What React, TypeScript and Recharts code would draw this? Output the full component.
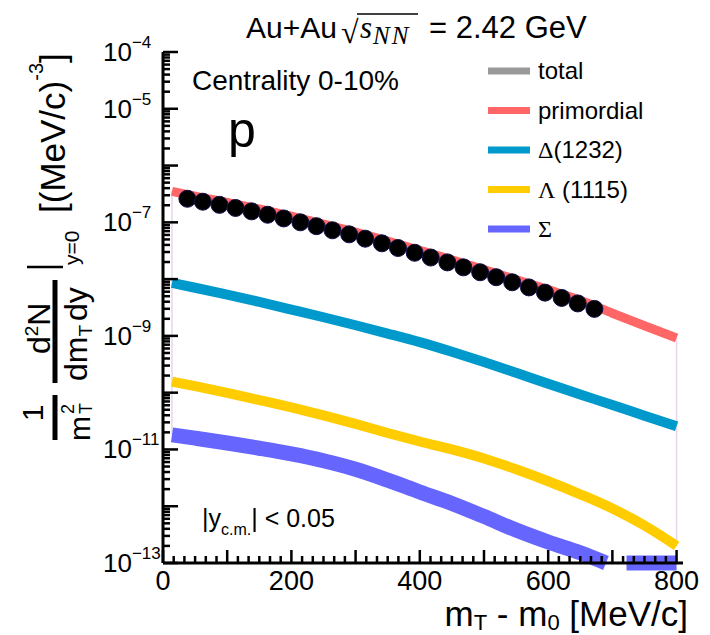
import { ComposedChart, Line, Scatter, XAxis, YAxis, ReferenceLine } from 'recharts';

const SANS = '"Liberation Sans", Arial, sans-serif';
const SERIF = '"Liberation Serif", "Times New Roman", serif';

// m_T - m_0 grid (MeV/c) for the model bands
const MT_GRID = [14, 50, 100, 150, 200, 250, 300, 350, 400, 450, 500, 550, 600, 650, 700, 750, 800];
const PRIMORDIAL = [
  3.51e-7, 2.88e-7, 2.24e-7, 1.72e-7, 1.28e-7, 9.33e-8, 6.73e-8, 4.69e-8, 3.21e-8,
  2.19e-8, 1.48e-8, 9.84e-9, 6.52e-9, 4.24e-9, 2.51e-9, 1.51e-9, 9.2e-10,
];
const DELTA_1232 = [
  8.57e-9, 7.05e-9, 5.32e-9, 3.96e-9, 2.91e-9, 2.13e-9, 1.54e-9, 1.1e-9, 7.76e-10,
  5.25e-10, 3.47e-10, 2.24e-10, 1.43e-10, 9.31e-11, 6.05e-11, 3.94e-11, 2.56e-11,
];
const LAMBDA_1115 = [
  1.57e-10, 1.3e-10, 9.89e-11, 7.41e-11, 5.5e-11, 3.98e-11, 2.82e-11, 1.95e-11, 1.38e-11,
  1.0e-11, 6.92e-12, 4.47e-12, 2.75e-12, 1.62e-12, 9.12e-13, 4.57e-13, 2.0e-13,
];
const SIGMA_MT = [14, 50, 100, 150, 200, 250, 300, 350, 400, 450, 500, 550, 600, 650, 690];
const SIGMA = [
  1.81e-11, 1.58e-11, 1.3e-11, 1.05e-11, 8.32e-12, 6.31e-12, 4.47e-12, 2.88e-12,
  1.78e-12, 1.12e-12, 6.61e-13, 3.8e-13, 2.34e-13, 1.51e-13, 1.0e-13,
];
const SIGMA_TAIL_MT = [722, 800];
const SIGMA_TAIL = [1.0e-13, 1.0e-13];

// measured protons, |y_cm| < 0.05
const DATA_MT = [
  38, 62, 88, 113, 138, 163, 188, 214, 239, 264, 290, 315, 341,
  366, 392, 417, 443, 468, 494, 519, 544, 570, 595, 621, 646, 672,
];
const DATA_YIELD = [
  2.6e-7, 2.31e-7, 2.03e-7, 1.79e-7, 1.56e-7, 1.36e-7, 1.17e-7, 1.0e-7, 8.55e-8,
  7.24e-8, 6.14e-8, 5.15e-8, 4.27e-8, 3.53e-8, 2.91e-8, 2.4e-8, 1.97e-8, 1.61e-8,
  1.32e-8, 1.08e-8, 8.79e-9, 7.14e-9, 5.78e-9, 4.66e-9, 3.73e-9, 2.99e-9,
];

const X_LABELS = [0, 200, 400, 600, 800];
const Y_DECADES = [-13, -12, -11, -10, -9, -8, -7, -6, -5, -4];
const Y_LABEL_EXPONENTS = [-4, -5, -7, -9, -11, -13];

const COLORS = {
  total: '#999999',
  primordial: '#ff6666',
  delta: '#0099cc',
  lambda: '#ffcc00',
  sigma: '#6666ff',
};

const LEGEND = [
  { greek: '', text: 'total', color: COLORS.total },
  { greek: '', text: 'primordial', color: COLORS.primordial },
  { greek: 'Δ', text: '(1232)', color: COLORS.delta },
  { greek: 'Λ', text: ' (1115)', color: COLORS.lambda },
  { greek: 'Σ', text: '', color: COLORS.sigma },
];

const toPoints = (xs: number[], ys: number[]) => xs.map((x, i) => ({ x, y: ys[i] }));

// minor ticks every 200/12 MeV, taller ones every 100 MeV
const xTicks: number[] = [];
for (let i = 0; i <= 48; i++) xTicks.push(Math.round((i * 200) / 12 * 1e4) / 1e4);

const yTicks: number[] = [];
Y_DECADES.forEach((d) => {
  const top = d === -4 ? 1 : 9;
  for (let k = 1; k <= top; k++) yTicks.push(Number((k * Math.pow(10, d)).toPrecision(3)));
});

function XTick(props: any) {
  const { x, y, payload } = props;
  const v = payload.value as number;
  const tall = Math.abs(v / 100 - Math.round(v / 100)) < 1e-6;
  const len = tall ? 13 : 7;
  return (
    <g>
      <line x1={x} x2={x} y1={y} y2={y - len} stroke="#000" strokeWidth={2.5} />
      {X_LABELS.includes(v) && (
        <text x={x} y={y + 27} textAnchor="middle" fontSize={27} fontFamily={SANS} fill="#000">
          {v}
        </text>
      )}
    </g>
  );
}

function YTick(props: any) {
  const { x, y, payload } = props;
  const v = payload.value as number;
  const e = Math.log10(v);
  const n = Math.round(e);
  const decade = Math.abs(e - n) < 1e-6;
  const len = decade ? 15 : 7;
  return (
    <g>
      <line x1={x} x2={x + len} y1={y} y2={y} stroke="#000" strokeWidth={2.5} />
      {decade && Y_LABEL_EXPONENTS.includes(n) && (
        <text x={x - 60} y={y + 9} fontSize={26} fontFamily={SANS} fill="#000">
          10
          <tspan dy={-13} fontSize={17}>
            {'\u2212' + Math.abs(n)}
          </tspan>
        </text>
      )}
    </g>
  );
}

function Dot(props: any) {
  const { cx, cy } = props;
  return <circle cx={cx} cy={cy} r={8.5} fill="#000" stroke="#10104a" strokeWidth={1} />;
}

function Annotations() {
  return (
    <svg
      width={710}
      height={635}
      style={{ position: 'absolute', left: 0, top: 0, pointerEvents: 'none' }}
      fontFamily={SANS}
    >
      {/* title */}
      <text x={246} y={38} fontSize={30}>Au+Au</text>
      <text x={341} y={43} fontSize={32} fontFamily={SERIF}>√</text>
      <line x1={357} x2={418} y1={14} y2={14} stroke="#000" strokeWidth={1.5} />
      <text x={360} y={38} fontSize={31} fontFamily={SERIF} fontStyle="italic">s</text>
      <text x={373} y={44} fontSize={25} fontFamily={SERIF} fontStyle="italic" letterSpacing={2}>NN</text>
      <text x={429} y={38} fontSize={31}>= 2.42 GeV</text>

      {/* y-axis title, drawn in a rotated frame */}
      <g transform="rotate(-90)" fill="#000">
        <text x={-413} y={43} textAnchor="middle" fontSize={30}>1</text>
        <line x1={-440} x2={-395} y1={55} y2={55} stroke="#000" strokeWidth={5} />
        <text x={-441} y={90} fontSize={30}>m</text>
        <text x={-414} y={74} fontSize={18}>2</text>
        <text x={-414} y={92} fontSize={18}>T</text>

        <text x={-354} y={50} fontSize={32}>
          d<tspan dy={-12} fontSize={19}>2</tspan>
          <tspan dy={12}>N</tspan>
        </text>
        <line x1={-383} x2={-280} y1={55} y2={55} stroke="#000" strokeWidth={5} />
        <text x={-381} y={87} fontSize={32}>
          dm<tspan dy={5} fontSize={19}>T</tspan>
          <tspan dy={-5} dx={4}>dy</tspan>
        </text>

        <line x1={-267} x2={-267} y1={27} y2={63} stroke="#000" strokeWidth={2.5} />
        <text x={-265} y={79} fontSize={21}>y=0</text>

        <text x={-213} y={65} fontSize={35}>
          [(MeV/c)<tspan dy={-22} fontSize={20}>-3</tspan>
          <tspan dy={22}>]</tspan>
        </text>
      </g>

      {/* x-axis title */}
      <text x={688} y={626} textAnchor="end" fontSize={35}>
        m<tspan dy={4} fontSize={22}>T</tspan>
        <tspan dy={-4}> - m</tspan>
        <tspan dy={4} fontSize={22}>0</tspan>
        <tspan dy={-4}> [MeV/c]</tspan>
      </text>

      <text x={192} y={90} fontSize={28}>Centrality 0-10%</text>
      <text x={228} y={147} fontSize={50}>p</text>
      <text x={202} y={527} fontSize={25}>
        |y<tspan dy={8} fontSize={16}>c.m.</tspan>
        <tspan dy={-8}>| &lt; 0.05</tspan>
      </text>

      {/* legend */}
      {LEGEND.map((item, i) => {
        const cy = 71 + i * 39.5;
        return (
          <g key={item.color}>
            <line x1={488} x2={530} y1={cy} y2={cy} stroke={item.color} strokeWidth={7} />
            <text x={538} y={cy + 8} fontSize={24}>
              {item.greek && <tspan fontFamily={SERIF}>{item.greek}</tspan>}
              {item.text}
            </text>
          </g>
        );
      })}
    </svg>
  );
}

export default function App() {
  const axisLine = { stroke: '#000', strokeWidth: 3 };
  return (
    <div style={{ position: 'absolute', left: 0, top: 0, width: 710, height: 635, background: '#fff' }}>
      <ComposedChart width={710} height={635} margin={{ top: 52, right: 27, bottom: 0, left: 0 }}>
        <XAxis
          dataKey="x"
          type="number"
          domain={[0, 810]}
          ticks={xTicks}
          interval={0}
          height={72}
          tickSize={0}
          tickMargin={0}
          tickLine={false}
          axisLine={axisLine}
          tick={<XTick />}
        />
        <XAxis xAxisId="top" orientation="top" type="number" domain={[0, 810]} height={0} tick={false} tickLine={false} axisLine={axisLine} />
        <YAxis
          dataKey="y"
          type="number"
          scale="log"
          domain={[1e-13, 1e-4]}
          ticks={yTicks}
          interval={0}
          width={163}
          tickSize={0}
          tickMargin={0}
          tickLine={false}
          axisLine={axisLine}
          tick={<YTick />}
        />
        <YAxis yAxisId="right" orientation="right" type="number" domain={[0, 1]} width={0} tick={false} tickLine={false} axisLine={axisLine} />

        <ReferenceLine
          segment={[{ x: MT_GRID[0], y: SIGMA[0] }, { x: MT_GRID[0], y: PRIMORDIAL[0] }]}
          stroke="#e6d6ea"
          strokeWidth={1.5}
        />
        <ReferenceLine
          segment={[
            { x: MT_GRID[MT_GRID.length - 1], y: LAMBDA_1115[LAMBDA_1115.length - 1] },
            { x: MT_GRID[MT_GRID.length - 1], y: PRIMORDIAL[PRIMORDIAL.length - 1] },
          ]}
          stroke="#e6d6ea"
          strokeWidth={1.5}
        />

        <Line data={toPoints(SIGMA_MT, SIGMA)} dataKey="y" type="monotone" stroke={COLORS.sigma} strokeWidth={15} dot={false} isAnimationActive={false} />
        <Line data={toPoints(SIGMA_TAIL_MT, SIGMA_TAIL)} dataKey="y" type="linear" stroke={COLORS.sigma} strokeWidth={15} dot={false} isAnimationActive={false} />
        <Line data={toPoints(MT_GRID, LAMBDA_1115)} dataKey="y" type="monotone" stroke={COLORS.lambda} strokeWidth={10} dot={false} isAnimationActive={false} />
        <Line data={toPoints(MT_GRID, DELTA_1232)} dataKey="y" type="monotone" stroke={COLORS.delta} strokeWidth={10} dot={false} isAnimationActive={false} />
        <Line data={toPoints(MT_GRID, PRIMORDIAL)} dataKey="y" type="monotone" stroke={COLORS.primordial} strokeWidth={9} dot={false} isAnimationActive={false} />
        <Scatter data={toPoints(DATA_MT, DATA_YIELD)} fill="#000" shape={<Dot />} isAnimationActive={false} />
      </ComposedChart>
      <Annotations />
    </div>
  );
}
